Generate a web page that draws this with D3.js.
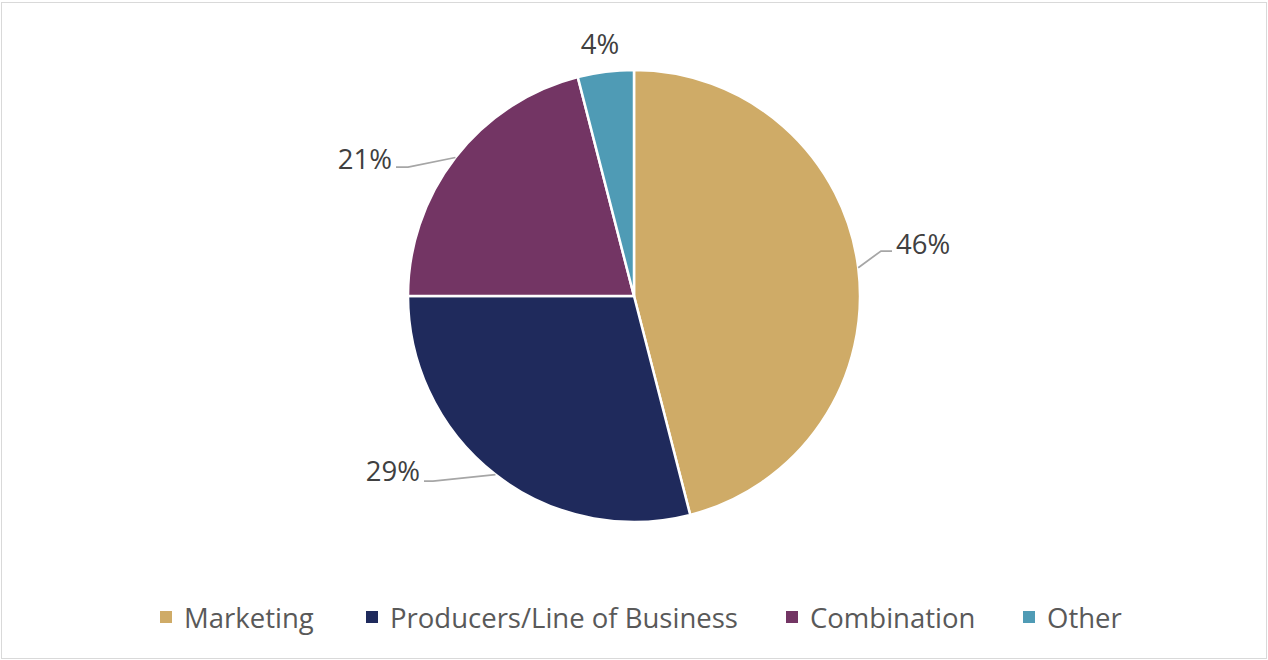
<!DOCTYPE html>
<html>
<head>
<meta charset="utf-8">
<script src="https://cdn.jsdelivr.net/npm/d3@7/dist/d3.min.js"></script>
<style>
  html, body { margin: 0; padding: 0; background: #fff; }
  svg { display: block; font-family: "Open Sans", "Noto Sans", sans-serif; }
</style>
</head>
<body>
<svg id="chart" width="1268" height="660"></svg>
<script>
// Share of responses by category (percent)
const categories = ["Marketing", "Producers/Line of Business", "Combination", "Other"];
const values = [46, 29, 21, 4];
const labels = ["46%", "29%", "21%", "4%"];
const colors = ["#CFAB67", "#1F2A5C", "#733564", "#4F9BB5"];

const W = 1268, H = 660;
const cx = 634, cy = 296, R = 226;

const svg = d3.select("#chart");

// chart frame
svg.append("rect")
  .attr("x", 1.5).attr("y", 2.5)
  .attr("width", W - 3).attr("height", H - 4)
  .attr("fill", "#fff").attr("stroke", "#D9D9D9").attr("stroke-width", 1);

const color = d3.scaleOrdinal().domain(categories).range(colors);

const pie = d3.pie().sort(null).value(d => d.value);
const data = categories.map((c, i) => ({ cat: c, value: values[i], label: labels[i] }));
const arcs = pie(data);

const arc = d3.arc().innerRadius(0).outerRadius(R);

const g = svg.append("g").attr("transform", `translate(${cx},${cy})`);

g.selectAll("path.slice")
  .data(arcs)
  .join("path")
  .attr("class", "slice")
  .attr("d", arc)
  .attr("fill", d => color(d.data.cat))
  .attr("stroke", "#fff")
  .attr("stroke-width", 2.5)
  .attr("stroke-linejoin", "round");

// data labels with leader lines, placed outside each slice
const labelPlacement = {
  "Marketing":                  { tx: 896, ty: 243, anchor: "start", leader: [[892, 251], [881, 251]] },
  "Producers/Line of Business": { tx: 420, ty: 470, anchor: "end",   leader: [[424, 481], [433, 481]] },
  "Combination":                { tx: 392, ty: 158, anchor: "end",   leader: [[396, 167], [408, 167]] },
  "Other":                      { tx: 600, ty: 43,  anchor: "middle", leader: null }
};

const edge = d3.arc().innerRadius(R).outerRadius(R);

arcs.forEach(a => {
  const p = labelPlacement[a.data.cat];
  if (p.leader) {
    const [ex, ey] = edge.centroid(a);
    const pts = [p.leader[0], p.leader[1], [cx + ex, cy + ey]];
    svg.append("path")
      .attr("d", d3.line()(pts))
      .attr("fill", "none")
      .attr("stroke", "#A6A6A6")
      .attr("stroke-width", 1.75);
  }
  svg.append("text")
    .attr("x", p.tx).attr("y", p.ty)
    .attr("text-anchor", p.anchor)
    .attr("dominant-baseline", "central")
    .attr("font-size", 27.5)
    .attr("fill", "#404040")
    .text(a.data.label);
});

// legend
const legendItems = [
  { cat: categories[0], x: 160 },
  { cat: categories[1], x: 366 },
  { cat: categories[2], x: 786 },
  { cat: categories[3], x: 1023 }
];
const legendY = 617;
const lg = svg.append("g");
legendItems.forEach(it => {
  lg.append("rect")
    .attr("x", it.x).attr("y", legendY - 6)
    .attr("width", 12).attr("height", 12)
    .attr("fill", color(it.cat));
  lg.append("text")
    .attr("x", it.x + 24).attr("y", legendY)
    .attr("dominant-baseline", "central")
    .attr("font-size", 27.5)
    .attr("fill", "#595959")
    .text(it.cat);
});
</script>
</body>
</html>
